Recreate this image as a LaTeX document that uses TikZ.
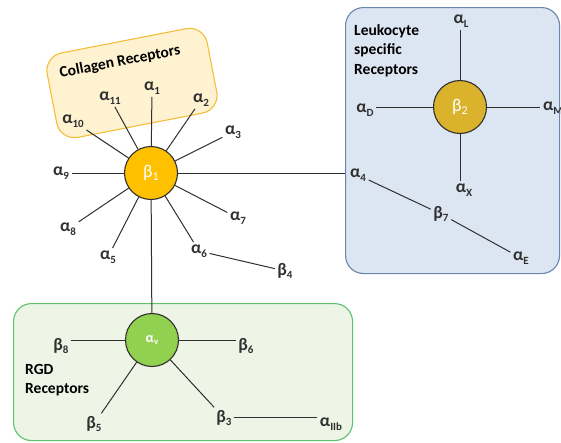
\documentclass[tikz,border=0pt]{standalone}
\usepackage{fontspec}
\setmainfont{Carlito}
\definecolor{coll}{HTML}{FEF2D0}
\definecolor{collb}{HTML}{F5BE3A}
\definecolor{leu}{HTML}{DCE6F2}
\definecolor{leub}{HTML}{6A86AD}
\definecolor{rgd}{HTML}{EEF5E6}
\definecolor{rgdb}{HTML}{5CC26E}
\definecolor{bone}{HTML}{FFC000}
\definecolor{btwo}{HTML}{DAB22C}
\definecolor{av}{HTML}{92D050}
\definecolor{ln}{HTML}{303030}
\newcommand{\lab}[2]{#1\raisebox{-0.45ex}{\fontsize{11}{11}\selectfont #2}}
\tikzset{
  grp/.style={rounded corners=18pt, line width=1.1pt, inner sep=0pt},
  hub/.style={circle, draw=ln, line width=1.1pt, minimum size=53pt, inner sep=0pt, text=white, font=\fontsize{18}{18}\selectfont},
  lbl/.style={inner sep=2.5pt, font=\bfseries\fontsize{17.5}{17.5}\selectfont, text=ln},
  gtxt/.style={font=\bfseries\fontsize{15.5}{19.5}\selectfont, align=left, text=black, inner sep=0pt},
  spoke/.style={draw=ln, line width=1pt}
}
\begin{document}
\begin{tikzpicture}[x=1pt,y=-1pt]
\useasboundingbox (0,0) rectangle (561,442);
\clip (0,0) rectangle (561,442);
% group boxes
\node[grp, draw=collb, fill=coll, minimum width=163pt, minimum height=86pt, rotate=11] (collbox) at (132,83) {};
\node[gtxt, rotate=11] (colltxt) at (120,62) {Collagen Receptors};
\node[grp, draw=leub, fill=leu, minimum width=214pt, minimum height=266pt, anchor=north west] (leuk) at (345,7) {};
\node[gtxt, anchor=north west] (leuktxt) at (354,24) {Leukocyte\\specific\\Receptors};
\node[grp, draw=rgdb, fill=rgd, minimum width=339pt, minimum height=137pt, anchor=north west] (rgdbox) at (13,303) {};
\node[gtxt, anchor=north west] (rgdtxt) at (25,364) {RGD\\Receptors};
% hubs
\node[hub, fill=bone] (b1) at (151,173) {β\raisebox{-0.4ex}{\fontsize{12}{12}\selectfont 1}};
\node[hub, fill=btwo] (b2) at (460,107) {β\raisebox{-0.4ex}{\fontsize{12}{12}\selectfont 2}};
\node[hub, fill=av, font=\bfseries\fontsize{14}{14}\selectfont] (av) at (152,340) {α\raisebox{-0.4ex}{\fontsize{9}{9}\selectfont v}};
% beta1 labels
\node[lbl] (a1) at (152,88) {\lab{α}{1}};
\node[lbl] (a11) at (110,98) {\lab{α}{11}};
\node[lbl] (a10) at (73,121) {\lab{α}{10}};
\node[lbl] (a2) at (201,100) {\lab{α}{2}};
\node[lbl] (a3) at (233,132) {\lab{α}{3}};
\node[lbl] (a9) at (61,173) {\lab{α}{9}};
\node[lbl] (a7) at (238,218) {\lab{α}{7}};
\node[lbl] (a8) at (68,229) {\lab{α}{8}};
\node[lbl] (a5) at (108,257) {\lab{α}{5}};
\node[lbl] (a6) at (199,251) {\lab{α}{6}};
\node[lbl] (b4) at (285,271) {\lab{β}{4}};
\foreach \n in {a1,a11,a10,a2,a3,a9,a7,a8,a5,a6} \draw[spoke] (b1) -- (\n);
\draw[spoke] (a6) -- (b4);
\draw[spoke] (b1) -- (b1 -| leuk.west);
\draw[spoke] (b1) -- (av);
% beta2 labels
\node[lbl] (aL) at (461,21) {\lab{α}{L}};
\node[lbl] (aD) at (365,110) {\lab{α}{D}};
\node[lbl] (aM) at (553,108) {\lab{α}{M}};
\node[lbl] (aX) at (464,190) {\lab{α}{X}};
\draw[spoke] (b2) -- (b2 |- aL.south);
\draw[spoke] (b2) -- (b2 |- aX.north);
\draw[spoke] (b2) -- (b2 -| aD.east);
\draw[spoke] (b2) -- (b2 -| aM.west);
\node[lbl] (a4) at (358,175) {\lab{α}{4}};
\node[lbl] (b7) at (441,214) {\lab{β}{7}};
\node[lbl] (aE) at (521,258) {\lab{α}{E}};
\draw[spoke] (a4) -- (b7);
\draw[spoke] (b7) -- (aE);
% alpha v labels
\node[lbl] (b8) at (61,346) {\lab{β}{8}};
\node[lbl] (b6) at (246,346) {\lab{β}{6}};
\node[lbl] (b5) at (94,424) {\lab{β}{5}};
\node[lbl] (b3) at (224,418) {\lab{β}{3}};
\node[lbl] (aIIb) at (331,424) {\lab{α}{IIb}};
\draw[spoke] (av) -- (av -| b8.east);
\draw[spoke] (av) -- (av -| b6.west);
\draw[spoke] (av) -- (b5);
\draw[spoke] (av) -- (b3);
\draw[spoke] (b3.east |- 0,417) -- (aIIb.west |- 0,417);
\end{tikzpicture}
\end{document}
